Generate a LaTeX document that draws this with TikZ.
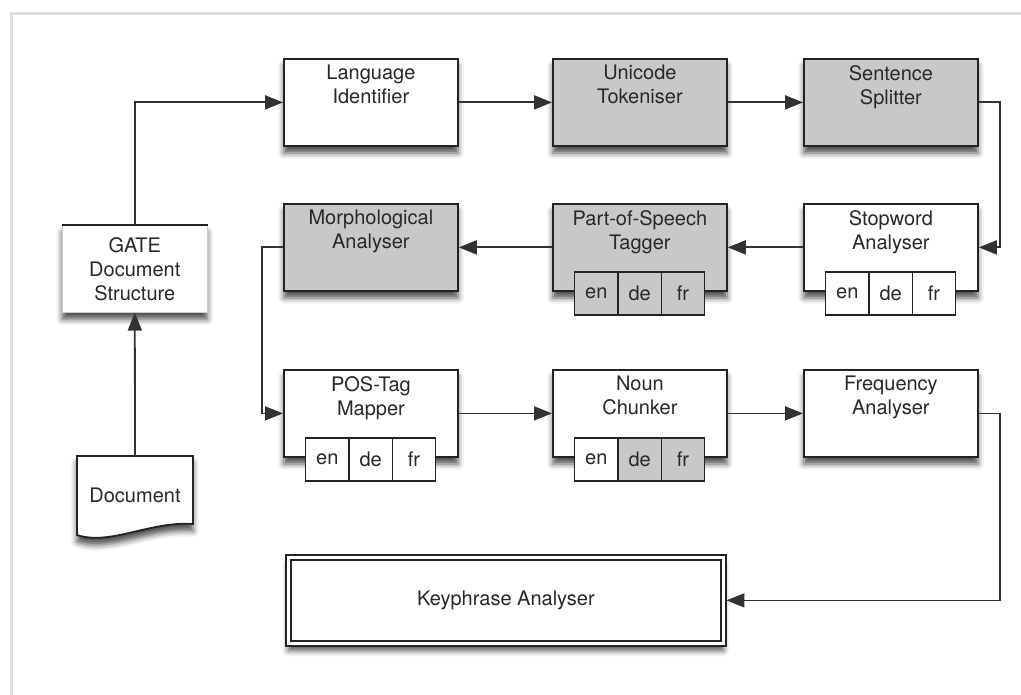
\documentclass[tikz,border=0pt]{standalone}
\usepackage{fontspec}
\setmainfont{TeX Gyre Heros}
\usetikzlibrary{positioning,arrows.meta,shadows.blur,backgrounds}
\definecolor{boxgrey}{RGB}{200,200,200}
\definecolor{edgegrey}{RGB}{35,35,35}
\definecolor{linegrey}{RGB}{50,50,50}
\definecolor{framegrey}{RGB}{222,222,222}
\definecolor{txtgrey}{RGB}{40,40,40}
\begin{document}
\begin{tikzpicture}[x=1pt,y=-1pt,font=\fontsize{20}{24}\selectfont,text=txtgrey,
  shade/.style={blur shadow={shadow xshift=0pt,shadow yshift=-7pt,shadow blur radius=6pt,shadow opacity=70}},
  proc/.style={shade,draw=edgegrey,line width=1.8pt,fill=white,inner sep=0pt,minimum width=174pt,minimum height=87pt,anchor=north west},
  greyproc/.style={proc,fill=boxgrey},
  boxtext/.style={inner sep=0pt,align=center},
  cellrow/.style={blur shadow={shadow xshift=0pt,shadow yshift=-7pt,shadow blur radius=5pt,shadow opacity=70},
    fill=white,inner sep=0pt,minimum width=130pt,minimum height=43pt,anchor=north},
  cell/.style={draw=edgegrey,line width=1.5pt,inner sep=0pt,outer sep=0pt,minimum width=43.3pt,minimum height=43pt},
  conn/.style={draw=linegrey,line width=1.8pt,-{Triangle[length=18pt,width=14pt]}}]
  \useasboundingbox (0,0) rectangle (1021,695);
  \draw[framegrey,line width=3pt] (11,695) -- (11,14) -- (1021,14);

  \node[proc]     (lang)   at (283,58)  {}; \node[boxtext,below=7pt of lang.north]   {Language\\Identifier};
  \node[greyproc] (token)  at (552,58)  {}; \node[boxtext,below=7pt of token.north]  {Unicode\\Tokeniser};
  \node[greyproc] (split)  at (803,58)  {}; \node[boxtext,below=7pt of split.north]  {Sentence\\Splitter};
  \node[greyproc] (morph)  at (283,203) {}; \node[boxtext,below=7pt of morph.north]  {Morphological\\Analyser};
  \node[greyproc] (postag) at (552,203) {}; \node[boxtext,below=7pt of postag.north] {Part-of-Speech\\Tagger};
  \node[proc]     (stop)   at (803,203) {}; \node[boxtext,below=7pt of stop.north]   {Stopword\\Analyser};
  \node[proc]     (mapper) at (283,369) {}; \node[boxtext,below=7pt of mapper.north] {POS-Tag\\Mapper};
  \node[proc]     (chunk)  at (552,369) {}; \node[boxtext,below=7pt of chunk.north]  {Noun\\Chunker};
  \node[proc]     (freq)   at (803,369) {}; \node[boxtext,below=7pt of freq.north]   {Frequency\\Analyser};

  \foreach \b/\fa/\fb/\fc in {postag/boxgrey/boxgrey/boxgrey,stop/white/white/white,mapper/white/white/white,chunk/white/boxgrey/boxgrey}{
    \begin{scope}[on background layer]
      \node[cellrow] (\b-row) at ([yshift=20pt]\b.south) {};
    \end{scope}
    \node[cell,fill=\fa,anchor=north west] (\b-en) at (\b-row.north west) {en};
    \node[cell,fill=\fb,right=0pt of \b-en] (\b-de) {de};
    \node[cell,fill=\fc,right=0pt of \b-de] (\b-fr) {fr};
  }

  \node[shade,draw=edgegrey,line width=1.4pt,double=white,double distance=3.5pt,fill=white,
        outer sep=3pt,minimum width=435pt,minimum height=86pt,anchor=north west] (keyph) at (285.4,554.4) {Keyphrase Analyser};

  \node[shade,draw=black!20,line width=0.6pt,fill=white,inner sep=0pt,minimum width=145pt,minimum height=87pt,
        anchor=north west,align=center] (gate) at (62,225) {GATE\\Document\\Structure};
  \draw[edgegrey,line width=1.8pt] (gate.north west) -- (gate.north east);

  \draw[shade,draw=edgegrey,line width=1.8pt,fill=white] (77,456) -- (193,456) -- (193,524)
    .. controls (150,521) and (110,546) .. (77,535) -- cycle;
  \node (doc) at (135,495) {Document};
  \coordinate (doctop) at (135,456);

  \draw[conn] (doctop) -- (gate.south);
  \draw[conn] (gate.north) |- (lang.west);
  \draw[conn] (lang.east) -- (token.west);
  \draw[conn] (token.east) -- (split.west);
  \draw[conn] (split.east) -- ++(21,0) |- (stop.east);
  \draw[conn] (stop.west) -- (postag.east);
  \draw[conn] (postag.west) -- (morph.east);
  \draw[conn] (morph.west) -- ++(-21,0) |- (mapper.west);
  \draw[conn] (mapper.east) -- (chunk.west);
  \draw[conn] (chunk.east) -- (freq.west);
  \draw[conn] (freq.east) -- ++(21,0) |- (keyph.east);
\end{tikzpicture}
\end{document}
